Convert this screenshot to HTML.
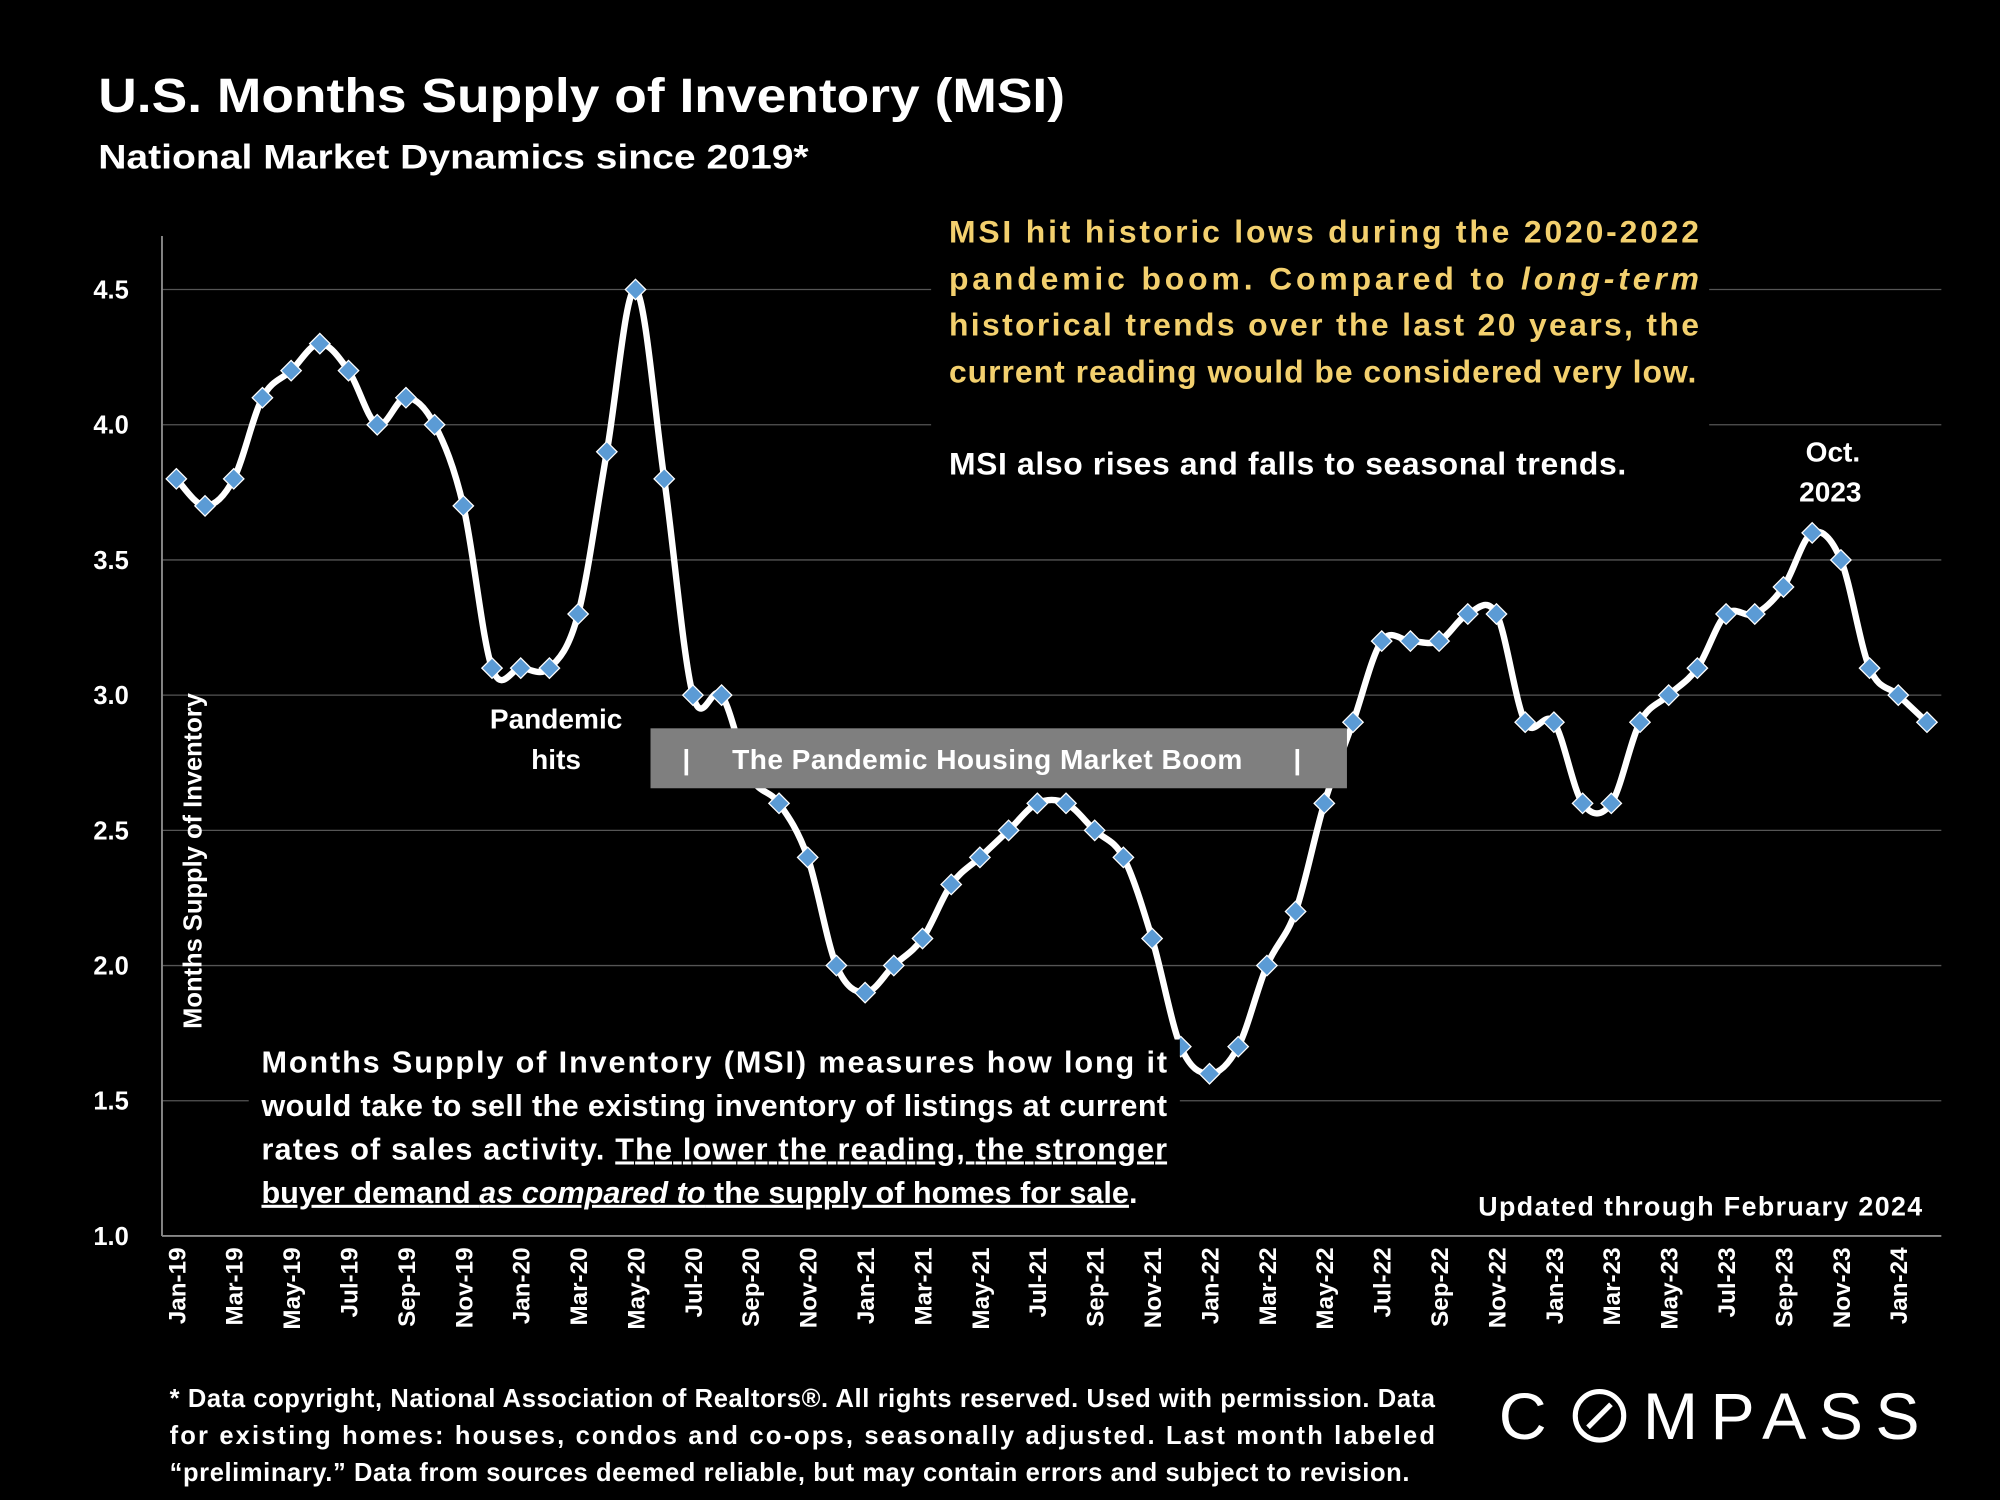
<!DOCTYPE html>
<html><head><meta charset="utf-8"><style>
html,body{margin:0;padding:0;background:#000;}
svg{display:block;font-family:"Liberation Sans",sans-serif;}
</style></head><body>
<svg id="chart" width="2000" height="1500" viewBox="0 0 1568 1176" xmlns="http://www.w3.org/2000/svg">
<rect width="1568" height="1176" fill="#000"/>
<text x="77" y="88" fill="#fff" font-size="38" font-weight="bold" textLength="758" lengthAdjust="spacingAndGlyphs">U.S. Months Supply of Inventory (MSI)</text>
<text x="77" y="132" fill="#fff" font-size="27" font-weight="bold" textLength="557" lengthAdjust="spacingAndGlyphs">National Market Dynamics since 2019*</text>
<g id="grid"></g>
<g id="yticks"></g>
<g id="xticks"></g>
<line x1="127" y1="185" x2="127" y2="969" stroke="#888" stroke-width="1.5"/>
<line x1="127" y1="969" x2="1522" y2="969" stroke="#888" stroke-width="1.5"/>
<path id="line" fill="none" stroke="#fff" stroke-width="5"/>
<g id="marks"></g>
<rect x="730" y="160" width="610" height="230" fill="#000"/>
<g fill="#f3d06e" font-size="25" font-weight="bold">
<text x="744" y="190" textLength="588" lengthAdjust="spacing">MSI hit historic lows during the 2020-2022</text>
<text x="744" y="227" textLength="588" lengthAdjust="spacing">pandemic boom. Compared to <tspan font-style="italic">long-term</tspan></text>
<text x="744" y="263" textLength="588" lengthAdjust="spacing">historical trends over the last 20 years, the</text>
<text x="744" y="300" textLength="586" lengthAdjust="spacing">current reading would be considered very low.</text>
</g>
<text x="744" y="372" fill="#fff" font-size="25" font-weight="bold" textLength="531" lengthAdjust="spacing">MSI also rises and falls to seasonal trends.</text>
<g fill="#fff" font-size="22" font-weight="bold" text-anchor="middle">
<text x="1437" y="362">Oct.</text><text x="1435" y="393">2023</text></g>
<g fill="#fff" font-size="22" font-weight="bold" text-anchor="middle">
<text x="436" y="571">Pandemic</text><text x="436" y="603">hits</text></g>
<rect x="510" y="571" width="546" height="47" fill="#7f7f7f"/>
<g fill="#fff" font-size="22" font-weight="bold">
<text x="535" y="603">|</text>
<text x="574" y="603" textLength="400" lengthAdjust="spacing">The Pandemic Housing Market Boom</text>
<text x="1014" y="603">|</text>
</g>
<rect x="195" y="815" width="730" height="140" fill="#000"/>
<g fill="#fff" font-size="24" font-weight="bold">
<text x="205" y="841" textLength="710" lengthAdjust="spacing">Months Supply of Inventory (MSI) measures how long it</text>
<text x="205" y="875" textLength="710" lengthAdjust="spacing">would take to sell the existing inventory of listings at current</text>
<text x="205" y="909" textLength="710" lengthAdjust="spacing">rates of sales activity. <tspan text-decoration="underline">The lower the reading, the stronger</tspan></text>
<text x="205" y="943"><tspan text-decoration="underline">buyer demand <tspan font-style="italic">as compared to</tspan> the supply of homes for sale</tspan>.</text>
</g>
<text x="1159" y="953" fill="#fff" font-size="21" font-weight="bold" textLength="348" lengthAdjust="spacing">Updated through February 2024</text>
<text transform="translate(158,675) rotate(-90)" fill="#fff" font-size="20" font-weight="bold" text-anchor="middle">Months Supply of Inventory</text>
<g fill="#fff" font-size="20" font-weight="bold">
<text x="133" y="1103" textLength="992" lengthAdjust="spacing">* Data copyright, National Association of Realtors®. All rights reserved. Used with permission. Data</text>
<text x="133" y="1132" textLength="992" lengthAdjust="spacing">for existing homes: houses, condos and co-ops, seasonally adjusted. Last month labeled</text>
<text x="133" y="1161" textLength="972" lengthAdjust="spacing">“preliminary.” Data from sources deemed reliable, but may contain errors and subject to revision.</text>
</g>
<g>
<text x="1175" y="1128" fill="#fff" font-size="52">C</text>
<circle cx="1254" cy="1110" r="19" fill="none" stroke="#fff" stroke-width="4"/>
<line x1="1245" y1="1119" x2="1263" y2="1101" stroke="#fff" stroke-width="4"/>
<text x="1288" y="1128" fill="#fff" font-size="52" textLength="217" lengthAdjust="spacing">MPASS</text>
</g>
</svg>
<script>
const months = ["Jan-19","Feb-19","Mar-19","Apr-19","May-19","Jun-19","Jul-19","Aug-19","Sep-19","Oct-19","Nov-19","Dec-19",
"Jan-20","Feb-20","Mar-20","Apr-20","May-20","Jun-20","Jul-20","Aug-20","Sep-20","Oct-20","Nov-20","Dec-20",
"Jan-21","Feb-21","Mar-21","Apr-21","May-21","Jun-21","Jul-21","Aug-21","Sep-21","Oct-21","Nov-21","Dec-21",
"Jan-22","Feb-22","Mar-22","Apr-22","May-22","Jun-22","Jul-22","Aug-22","Sep-22","Oct-22","Nov-22","Dec-22",
"Jan-23","Feb-23","Mar-23","Apr-23","May-23","Jun-23","Jul-23","Aug-23","Sep-23","Oct-23","Nov-23","Dec-23",
"Jan-24","Feb-24"];
const msiValues = [3.8,3.7,3.8,4.1,4.2,4.3,4.2,4.0,4.1,4.0,3.7,3.1,
3.1,3.1,3.3,3.9,4.5,3.8,3.0,3.0,2.7,2.6,2.4,2.0,
1.9,2.0,2.1,2.3,2.4,2.5,2.6,2.6,2.5,2.4,2.1,1.7,
1.6,1.7,2.0,2.2,2.6,2.9,3.2,3.2,3.2,3.3,3.3,2.9,
2.9,2.6,2.6,2.9,3.0,3.1,3.3,3.3,3.4,3.6,3.5,3.1,
3.0,2.9];
const yTicks = [1.0,1.5,2.0,2.5,3.0,3.5,4.0,4.5];
const yTickLabels = ["1.0","1.5","2.0","2.5","3.0","3.5","4.0","4.5"];

const NS="http://www.w3.org/2000/svg";
const X0=127, X1=1522, Y0=969, Ymin=1.0, Ymax=4.5, YT=227;
const band=(X1-X0)/months.length;
function xs(i){return X0+band*(i+0.5);}
function ys(v){return Y0-(v-Ymin)/(Ymax-Ymin)*(Y0-YT);}
function mk(t,p){const e=document.createElementNS(NS,t);for(const k in p)e.setAttribute(k,p[k]);return e;}

const grid=document.getElementById('grid'), yt=document.getElementById('yticks');
yTicks.forEach((v,i)=>{
  if(v>Ymin){const g=mk('line',{x1:X0,x2:X1,y1:ys(v),y2:ys(v),stroke:'#555','stroke-width':1});
  
  
  grid.appendChild(g);}
  const t=mk('text',{x:101,y:ys(v)+7,fill:'#fff','font-size':20,'font-weight':'bold','text-anchor':'end'});
  t.textContent=yTickLabels[i];
  
  
  yt.appendChild(t);
});
const xt=document.getElementById('xticks');
months.forEach((m,i)=>{
  if(i%2) return;
  const t=mk('text',{transform:`translate(${xs(i)+7},978) rotate(-90)`,fill:'#fff','font-size':19,'font-weight':'bold','text-anchor':'end'});
  t.textContent=m;
  
  
  xt.appendChild(t);
});
const pts=msiValues.map((v,i)=>[xs(i),ys(v)]);
let d=`M${pts[0][0]},${pts[0][1]}`;
for(let i=0;i<pts.length-1;i++){
  const p0=pts[Math.max(0,i-1)],p1=pts[i],p2=pts[i+1],p3=pts[Math.min(pts.length-1,i+2)];
  const c1=[p1[0]+(p2[0]-p0[0])/6,p1[1]+(p2[1]-p0[1])/6];
  const c2=[p2[0]-(p3[0]-p1[0])/6,p2[1]-(p3[1]-p1[1])/6];
  d+=` C${c1[0]},${c1[1]} ${c2[0]},${c2[1]} ${p2[0]},${p2[1]}`;
}
document.getElementById('line').setAttribute('d',d);
const marks=document.getElementById('marks');
pts.forEach(p=>{
  const s=8;
  const m=mk('polygon',{points:`${p[0]},${p[1]-s} ${p[0]+s},${p[1]} ${p[0]},${p[1]+s} ${p[0]-s},${p[1]}`,fill:'#5b9bd5',stroke:'#fff','stroke-width':1});
  
  
  marks.appendChild(m);
});
</script>
</body></html>
